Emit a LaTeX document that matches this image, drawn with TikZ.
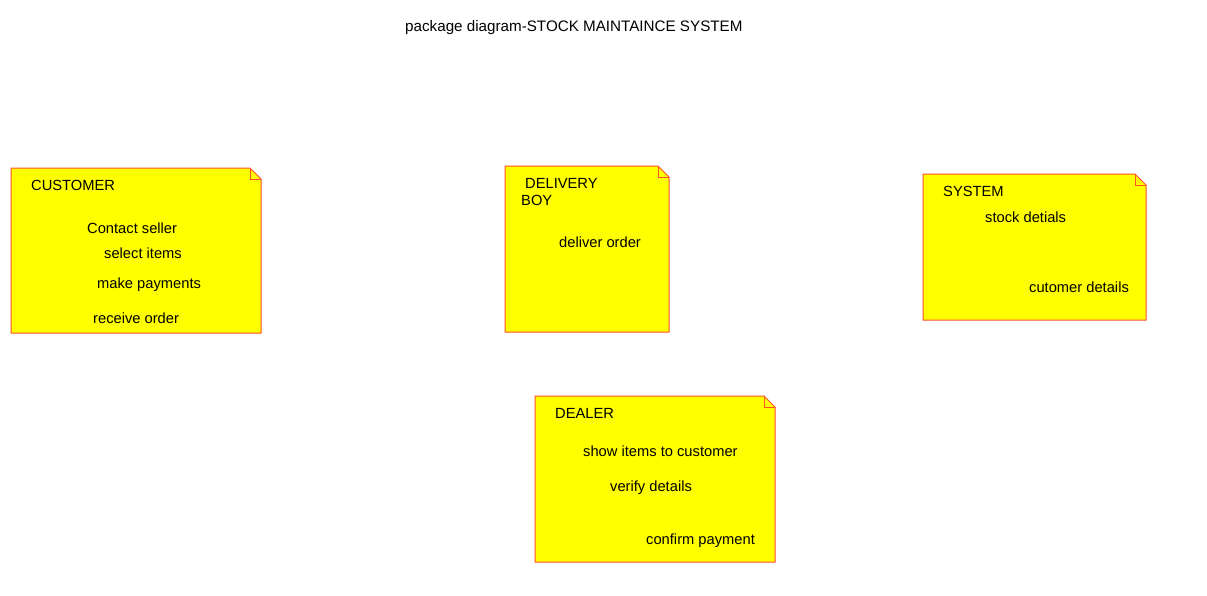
\documentclass[tikz,border=0pt]{standalone}
\usepackage{fontspec}
\setmainfont{Liberation Sans}
\definecolor{noteyellow}{RGB}{255,255,0}
\definecolor{noteedge}{RGB}{255,80,40}
\begin{document}
\begin{tikzpicture}[x=1pt,y=-1pt,
  notebox/.style={draw=noteedge, line width=1pt, fill=noteyellow},
  foldline/.style={draw=noteedge, line width=1pt},
  txt/.style={anchor=west, inner sep=0pt, font=\fontsize{14.7}{17}\selectfont, text=black},
  titletxt/.style={anchor=west, inner sep=0pt, font=\fontsize{15.2}{17}\selectfont, text=black}]
\useasboundingbox (0,0) rectangle (1207,595);
\newcommand{\notebox}[4]{% x1,y1,x2,y2
  \path[notebox] (#1,#2) -- ({#3-11},#2) -- (#3,{#2+11}) -- (#3,#4) -- (#1,#4) -- cycle;
  \draw[foldline] ({#3-11},#2) -- ({#3-11},{#2+11}) -- (#3,{#2+11});
}
\notebox{11}{168}{261}{333}
\notebox{505}{166}{669}{332}
\notebox{923}{174}{1146}{320}
\notebox{535}{396}{775}{562}
\node[titletxt] (title) at (405,28) {package diagram-STOCK MAINTAINCE SYSTEM};
\node[txt] (cust) at (31,185) {CUSTOMER};
\node[txt] (c1) at (87,228) {Contact seller};
\node[txt] (c2) at (104,253) {select items};
\node[txt] (c3) at (97,285) {make payments};
\node[txt] (c4) at (93,318) {receive order};
\node[txt] (del1) at (525,183) {DELIVERY};
\node[txt] (del2) at (521,200) {BOY};
\node[txt] (d1) at (559,242) {deliver order};
\node[txt] (sys) at (943,191) {SYSTEM};
\node[txt] (s1) at (985,217) {stock detials};
\node[txt] (s2) at (1029,287) {cutomer details};
\node[txt] (dealer) at (555,413) {DEALER};
\node[txt] (r1) at (583,451) {show items to customer};
\node[txt] (r2) at (610,488) {verify details};
\node[txt] (r3) at (646,541) {confirm payment};
\end{tikzpicture}
\end{document}
